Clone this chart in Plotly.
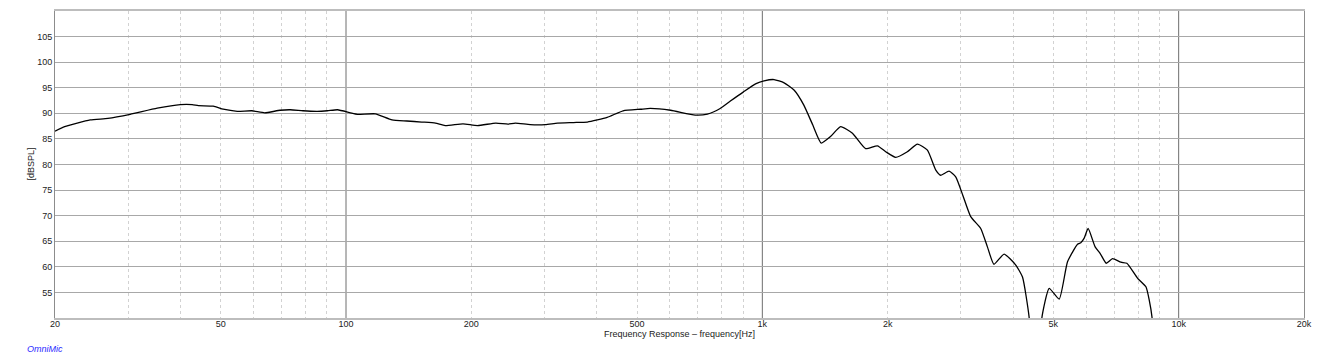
import plotly.graph_objects as go

# ---- data ----
freq_hz = [20, 21.1, 24.3, 26.8, 30.3, 35.2, 40, 42.7, 44.2, 48, 50.7, 54.8, 59.4, 63.8, 69.4,
           73.5, 78.8, 85.2, 90.2, 95.4, 102.5, 106.5, 117.6, 129, 140, 152, 164, 173, 191, 207,
           229, 245, 255, 277, 301, 322, 352, 380, 424, 463, 510, 538, 602, 690, 738, 792, 838,
           901, 966, 1010, 1067, 1128, 1193, 1258, 1322, 1385, 1460, 1542, 1646, 1770, 1890,
           1978, 2090, 2230, 2358, 2492, 2610, 2682, 2808, 2914, 3030, 3166, 3346, 3472, 3600,
           3808, 4062, 4216, 4372, 4420,
           4660, 4692, 4886, 5164, 5408, 5716, 5820, 5930, 6060, 6300, 6480, 6700, 6936, 7264,
           7508, 7970, 8344, 8498, 8626, 8700]
spl_db = [86.5, 87.4, 88.7, 89.0, 89.8, 91.0, 91.7, 91.7, 91.5, 91.4, 90.8, 90.4, 90.5, 90.1, 90.6,
          90.7, 90.5, 90.4, 90.5, 90.7, 90.1, 89.8, 89.9, 88.7, 88.5, 88.3, 88.1, 87.6, 87.95, 87.6,
          88.1, 87.9, 88.1, 87.8, 87.8, 88.1, 88.2, 88.3, 89.2, 90.5, 90.8, 90.95, 90.6, 89.65, 89.85, 90.95, 92.4,
          94.2, 95.8, 96.35, 96.6, 95.95, 94.5, 91.6, 87.7, 84.2, 85.5, 87.4, 86.1, 83.1, 83.65,
          82.5, 81.4, 82.5, 84.0, 82.8, 78.9, 77.9, 78.7, 77.6, 74.0, 69.8, 67.5, 63.9, 60.5,
          62.5, 60.35, 58.0, 50.25, 44,
          44, 50.0, 55.8, 53.7, 61.0, 64.4, 64.7, 65.6, 67.5, 63.9, 62.6, 60.7, 61.6, 60.9,
          60.7, 57.75, 56.1, 53.5, 50.25, 44]

x_tick_vals = [20, 50, 100, 200, 500, 1000, 2000, 5000, 10000, 20000]
x_tick_text = ["20", "50", "100", "200", "500", "1k", "2k", "5k", "10k", "20k"]
x_minor_vals = [30, 40, 50, 60, 70, 80, 90,
                200, 300, 400, 500, 600, 700, 800, 900,
                2000, 3000, 4000, 5000, 6000, 7000, 8000, 9000]
decade_vals = [100, 1000, 10000]
y_tick_vals = [55, 60, 65, 70, 75, 80, 85, 90, 95, 100, 105]

FONT = "Liberation Sans, Arial, sans-serif"
FS = 9

fig = go.Figure()
fig.add_trace(go.Scatter(
    x=freq_hz, y=spl_db, mode="lines",
    line=dict(color="#000000", width=1.3, shape="spline", smoothing=0.5),
    hoverinfo="x+y", showlegend=False,
))

for v in decade_vals:
    fig.add_shape(type="line", xref="x", yref="paper", x0=v, x1=v, y0=0, y1=1,
                  line=dict(color="#6e6e6e", width=1), layer="below")

fig.update_layout(
    width=1317, height=362,
    margin=dict(l=55, r=13, t=11, b=44),
    paper_bgcolor="white", plot_bgcolor="white",
    font=dict(family=FONT, size=FS, color="#222222"),
    xaxis=dict(
        type="log", range=[1.30103, 4.30103], automargin=False,
        tickvals=x_tick_vals, ticktext=x_tick_text,
        showgrid=False, zeroline=False, ticks="", ticklabelstandoff=-4,
        showline=True, mirror=True, linecolor="#bdbdbd", linewidth=2,
        tickfont=dict(size=FS, color="#222222"),
        minor=dict(tickvals=x_minor_vals, showgrid=True, gridcolor="#d2d2d2",
                   griddash="dot", gridwidth=1, ticks=""),
    ),
    yaxis=dict(
        range=[50, 110], tickvals=y_tick_vals, automargin=False,
        showgrid=True, gridcolor="#a8a8a8", gridwidth=1, zeroline=False, ticks="",
        showline=True, mirror=True, linecolor="#8c8c8c", linewidth=1,
        tickfont=dict(size=FS, color="#222222"),
    ),
    annotations=[
        dict(text="[dBSPL]", xref="paper", yref="paper", x=0, y=0.5, xshift=-25,
             textangle=-90, showarrow=False, xanchor="center", yanchor="middle",
             font=dict(size=FS, color="#222222")),
        dict(text="Frequency Response \u2013 frequency[Hz]", xref="paper", yref="paper",
             x=0.5, y=0, yshift=-16, showarrow=False, xanchor="center", yanchor="middle",
             font=dict(size=FS, color="#222222")),
        dict(text="<i>OmniMic</i>", xref="paper", yref="paper", x=0, y=0, xshift=-10,
             yshift=-31, showarrow=False, xanchor="center", yanchor="middle",
             font=dict(size=FS, color="#2a2aff")),
    ],
)

fig.write_html("out.html", config={"displayModeBar": False},
               post_script="document.body.style.margin='0';")
